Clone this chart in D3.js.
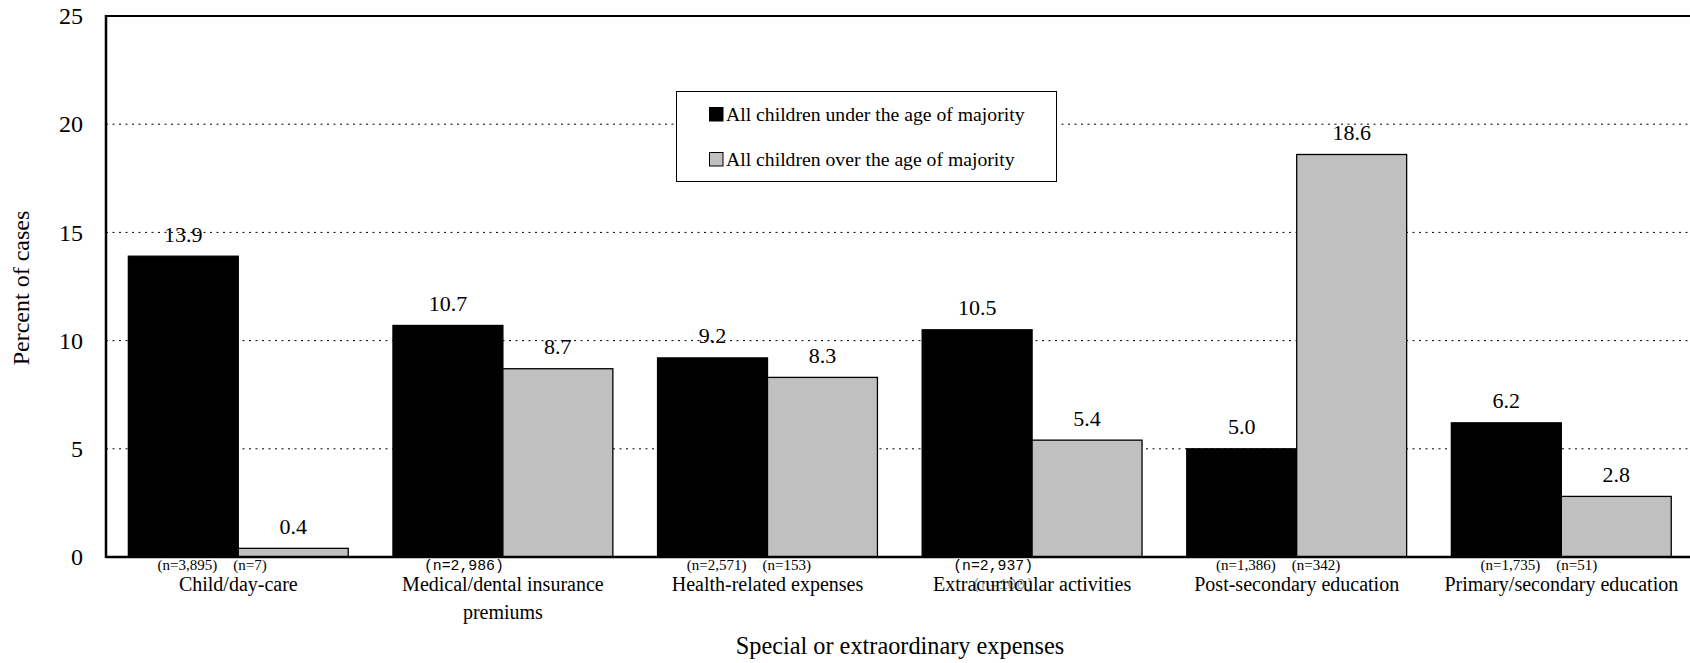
<!DOCTYPE html>
<html>
<head>
<meta charset="utf-8">
<script src="https://cdn.jsdelivr.net/npm/d3@7"></script>
<style>
  html, body { margin: 0; padding: 0; background: #fff; overflow: hidden; }
  svg { display: block; }
  text { font-family: "Liberation Serif", "Times New Roman", serif; fill: #000; }
</style>
</head>
<body>
<svg id="chart" width="1690" height="663"></svg>
<script>
// ---- data ----
const categories = [
  ["Child/day-care"],
  ["Medical/dental insurance", "premiums"],
  ["Health-related expenses"],
  ["Extracurricular activities"],
  ["Post-secondary education"],
  ["Primary/secondary education"]
];
const seriesNames = ["All children under the age of majority", "All children over the age of majority"];
const underValues = [13.9, 10.7, 9.2, 10.5, 5.0, 6.2];
const overValues  = [0.4, 8.7, 8.3, 5.4, 18.6, 2.8];
const underN = ["(n=3,895)", "(n=2,986)", "(n=2,571)", "(n=2,937)", "(n=1,386)", "(n=1,735)"];
const overN  = ["(n=7)", "", "(n=153)", "(n=100)", "(n=342)", "(n=51)"];
const monoN  = [false, true, false, true, false, false];
const yTicks = [0, 5, 10, 15, 20, 25];
const yTitle = "Percent of cases";
const xTitle = "Special or extraordinary expenses";
const colors = ["#000000", "#c0c0c0"];

(function () {
const svg = d3.select("#chart");
const mLeft = 106, mTop = 16, mBottom = 557, mRight = 1693.6;
const serif = '"Liberation Serif", "Times New Roman", serif';
const mono = '"Liberation Mono", "Courier New", monospace';

const idx = d3.range(categories.length);
const x = d3.scaleBand().domain(idx).range([mLeft, mRight]).paddingInner(0.169).paddingOuter(0.0845);
const xs = d3.scaleBand().domain([0, 1]).range([0, x.bandwidth()]);
const y = d3.scaleLinear().domain([0, 25]).range([mBottom, mTop]);

// gridlines
svg.append("g").selectAll("line")
  .data(yTicks.filter(t => t > 0 && t < 25))
  .join("line")
  .attr("x1", mLeft).attr("x2", 1690)
  .attr("y1", d => y(d)).attr("y2", d => y(d))
  .attr("stroke", "#000").attr("stroke-width", 1)
  .attr("stroke-dasharray", "2,4.5");

// y axis labels
const yAxis = d3.axisLeft(y).tickValues(yTicks).tickSize(0).tickPadding(23).tickFormat(d3.format("d"));
const yg = svg.append("g").attr("transform", `translate(${mLeft},0)`).call(yAxis)
  .attr("font-family", serif).attr("font-size", 24);
yg.select(".domain").remove();
yg.selectAll("text").style("font-family", serif).style("font-size", "24px").attr("fill", "#000");

// bars
const series = [underValues, overValues];
const groups = svg.append("g").selectAll("g")
  .data(idx).join("g")
  .attr("transform", i => `translate(${x(i)},0)`);

groups.selectAll("rect")
  .data(i => series.map((s, k) => ({ k, v: s[i] })))
  .join("rect")
  .attr("x", d => xs(d.k))
  .attr("width", xs.bandwidth())
  .attr("y", d => y(d.v))
  .attr("height", d => y(0) - y(d.v))
  .attr("fill", d => colors[d.k])
  .attr("stroke", "#000")
  .attr("stroke-width", 1.3);

// value labels
groups.selectAll("text.val")
  .data(i => series.map((s, k) => ({ k, v: s[i] })))
  .join("text")
  .attr("class", "val")
  .attr("x", d => xs(d.k) + xs.bandwidth() / 2)
  .attr("y", d => y(d.v) - 14.5)
  .attr("text-anchor", "middle")
  .style("font-family", serif)
  .style("font-size", "22px")
  .text(d => d3.format(".1f")(d.v));

// axis frame
svg.append("line").attr("x1", mLeft).attr("x2", mLeft).attr("y1", mTop - 1).attr("y2", mBottom + 1)
  .attr("stroke", "#000").attr("stroke-width", 2.5);
svg.append("line").attr("x1", mLeft).attr("x2", 1690).attr("y1", mTop).attr("y2", mTop)
  .attr("stroke", "#000").attr("stroke-width", 2.2);
svg.append("line").attr("x1", mLeft).attr("x2", 1690).attr("y1", mBottom).attr("y2", mBottom)
  .attr("stroke", "#000").attr("stroke-width", 2.5);

// n labels (hidden mono one drawn first, beneath category label)
idx.forEach(i => {
  const c = x(i) + x.bandwidth() / 2;
  if (monoN[i]) {
    svg.append("text")
      .attr("x", c - 39).attr("y", 570)
      .attr("text-anchor", "middle")
      .style("font-family", mono)
      .style("font-size", "14.8px")
      .attr("fill", "#444")
      .text(underN[i]);
    if (overN[i]) {
      svg.append("text")
        .attr("x", c - 29).attr("y", 589)
        .attr("text-anchor", "middle")
        .style("font-family", mono)
        .style("font-size", "14.8px")
        .style("fill", "#999")
        .text(overN[i]);
    }
  } else {
    svg.append("text")
      .attr("x", c - 21).attr("y", 570)
      .attr("text-anchor", "end")
      .style("font-size", "15px")
      .text(underN[i]);
    svg.append("text")
      .attr("x", c - 5).attr("y", 570)
      .attr("text-anchor", "start")
      .style("font-size", "15px")
      .text(overN[i]);
  }
});

// category labels
idx.forEach(i => {
  const c = x(i) + x.bandwidth() / 2;
  const t = svg.append("text")
    .attr("x", c).attr("y", 591)
    .attr("text-anchor", "middle")
    .style("font-size", "20px");
  categories[i].forEach((line, j) => {
    t.append("tspan").attr("x", c).attr("dy", j === 0 ? 0 : 28).text(line);
  });
});

// axis titles
svg.append("text")
  .attr("transform", `translate(29,${288}) rotate(-90)`)
  .attr("text-anchor", "middle")
  .style("font-size", "24px")
  .text(yTitle);
svg.append("text")
  .attr("x", 900).attr("y", 654)
  .attr("text-anchor", "middle")
  .style("font-size", "24.3px")
  .text(xTitle);

// legend
const lg = svg.append("g");
lg.append("rect").attr("x", 676.5).attr("y", 91.5).attr("width", 380).attr("height", 90)
  .attr("fill", "#fff").attr("stroke", "#000").attr("stroke-width", 1);
const rowsY = [121, 166];
seriesNames.forEach((name, k) => {
  lg.append("rect").attr("x", 709.5).attr("y", rowsY[k] - 13.5).attr("width", 13.5).attr("height", 13.5)
    .attr("fill", colors[k]).attr("stroke", "#000").attr("stroke-width", 1);
  lg.append("text").attr("x", 726).attr("y", rowsY[k])
    .style("font-size", "19.7px").text(name);
});
})();
</script>
</body>
</html>
